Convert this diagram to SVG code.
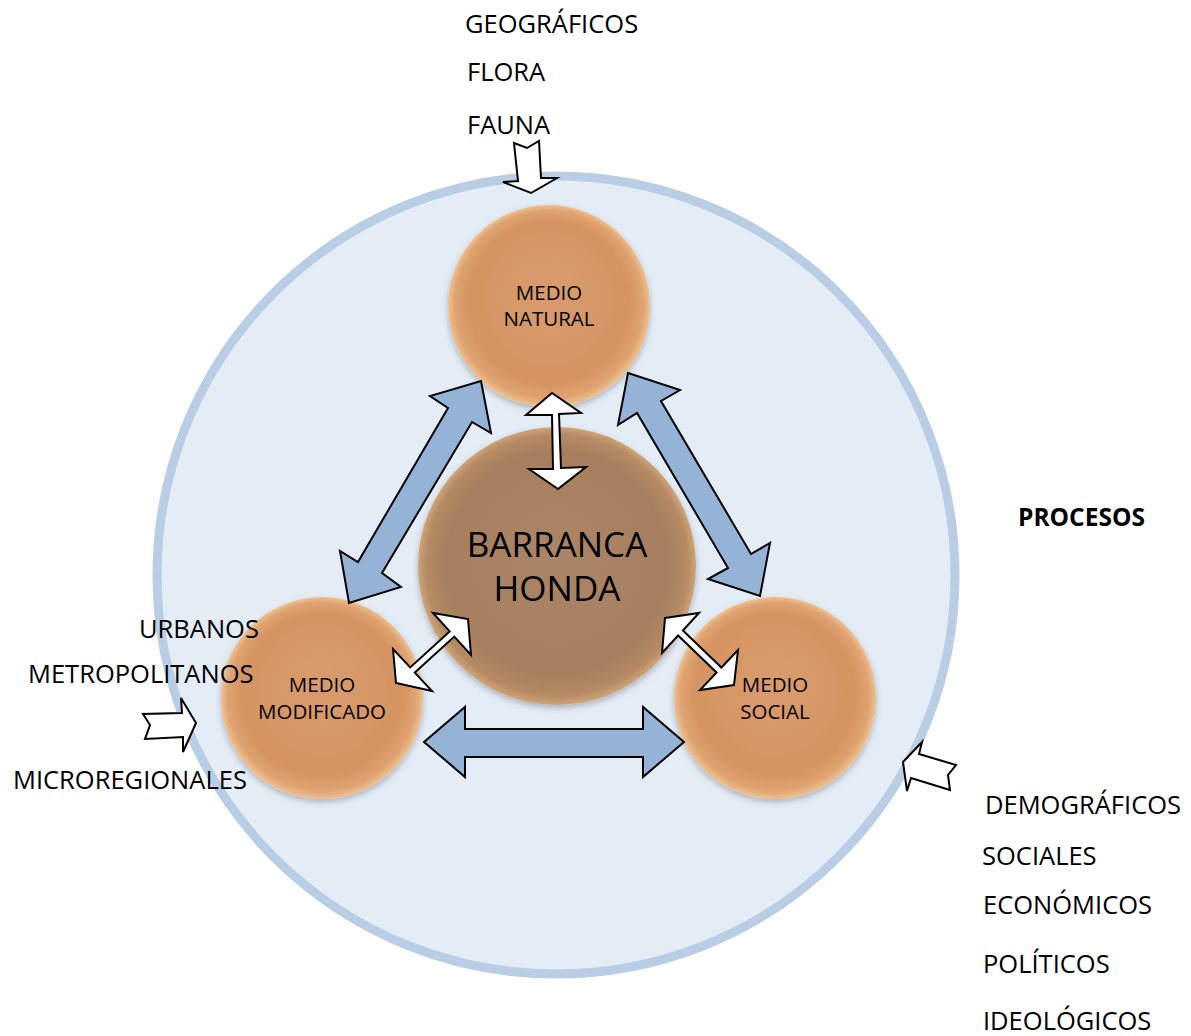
<svg xmlns="http://www.w3.org/2000/svg" width="1191" height="1036" viewBox="0 0 1191 1036">
<defs>
<radialGradient id="orange" cx="50%" cy="50%" r="50%" fx="50%" fy="40%">
<stop offset="0" stop-color="#d99c6e"/>
<stop offset="0.8" stop-color="#d59462"/>
<stop offset="0.93" stop-color="#dfa270"/>
<stop offset="1" stop-color="#efc090"/>
</radialGradient>
<radialGradient id="brown" cx="50%" cy="50%" r="50%" fx="50%" fy="45%">
<stop offset="0" stop-color="#aa8566"/>
<stop offset="0.8" stop-color="#a77f5e"/>
<stop offset="0.94" stop-color="#b58a64"/>
<stop offset="1" stop-color="#d0a478"/>
</radialGradient>
<filter id="sh" x="-10%" y="-10%" width="120%" height="125%">
<feDropShadow dx="0" dy="3" stdDeviation="3" flood-color="#000" flood-opacity="0.25"/>
</filter>
</defs>
<style>
.t{font-family:"Open Sans","Liberation Sans",sans-serif;font-size:25.5px;fill:#000}
.c{font-family:"Open Sans","Liberation Sans",sans-serif;font-size:20.5px;fill:#000;text-anchor:middle}
.b{font-family:"Open Sans","Liberation Sans",sans-serif;font-size:35px;fill:#000;text-anchor:middle}
.blue{fill:#95b3d7;stroke:#000;stroke-width:2;stroke-linejoin:miter}
.white{fill:#fff;stroke:#000;stroke-width:2;stroke-linejoin:miter}
</style>
<rect width="1191" height="1036" fill="#fff"/>
<g id="outer"><circle cx="556" cy="575" r="399" fill="#e4ecf6" stroke="#b9cde4" stroke-width="9"/></g>
<g id="medio-natural"><circle cx="549" cy="306" r="101" fill="url(#orange)" filter="url(#sh)"/>
<text class="c" x="549" y="300">MEDIO</text><text class="c" x="549" y="326">NATURAL</text></g>
<g id="barranca-honda"><circle cx="557" cy="566" r="139" fill="url(#brown)" filter="url(#sh)"/>
<text class="b" x="557" y="557">BARRANCA</text><text class="b" x="557" y="601">HONDA</text></g>
<g id="medio-modificado"><circle cx="322" cy="698" r="101" fill="url(#orange)" filter="url(#sh)"/>
<text class="c" x="322" y="692">MEDIO</text><text class="c" x="322" y="719">MODIFICADO</text></g>
<g id="medio-social"><circle cx="775" cy="698" r="101" fill="url(#orange)" filter="url(#sh)"/>
<text class="c" x="775" y="692">MEDIO</text><text class="c" x="775" y="719">SOCIAL</text></g>
<g id="connectors">
<polygon class="blue" points="424,742 465,707 465,729 643,729 643,707 684,742 643,777 643,757 465,757 465,777"/>
<polygon class="blue" points="481,381 491,433 472,422 382,573 401,587 349,603 340,551 358,562 448,408 430,396"/>
<polygon class="blue" points="628,373 680,390 661,401 751,554 770,543 760,596 708,579 728,568 637,413 618,425"/>
<polygon class="white" points="552,393 581,413 559,414 561,468 586,467 558,489 529,469 553,469 552,415 526,415"/>
<polygon class="white" points="468,619 471,655 454.3,636.6 414.8,672.6 432,691 396,683 393,649 410.2,667.4 449.7,631.4 433,613"/>
<polygon class="white" points="665,618 699,613 682.9,630.5 721.4,667.5 738,650 734,685 700,690 716.6,672.5 678.1,635.5 662,653"/>
<polygon class="white" points="514,143 527,148 539,141 541,178 557,178 531,193 503,182 518,181"/>
<polygon class="white" points="143,714 150,725 145,739 183,737 183,752 196,723 181,698 182,713"/>
<polygon class="white" points="903,762 922,742 919,754 956,765 948,775 950,790 911,778 907,791"/>
</g>
<g id="labels">
<text class="t" x="465" y="33">GEOGRÁFICOS</text>
<text class="t" x="467" y="81">FLORA</text>
<text class="t" x="467" y="134">FAUNA</text>
<text class="t" x="1018" y="526" font-weight="bold" style="font-size:24.5px">PROCESOS</text>
<text class="t" x="139" y="638">URBANOS</text>
<text class="t" x="28" y="683">METROPOLITANOS</text>
<text class="t" x="13" y="789">MICROREGIONALES</text>
<text class="t" x="985" y="814">DEMOGRÁFICOS</text>
<text class="t" x="982" y="865">SOCIALES</text>
<text class="t" x="983" y="914">ECONÓMICOS</text>
<text class="t" x="983" y="973">POLÍTICOS</text>
<text class="t" x="983" y="1030">IDEOLÓGICOS</text>
</g>
</svg>
